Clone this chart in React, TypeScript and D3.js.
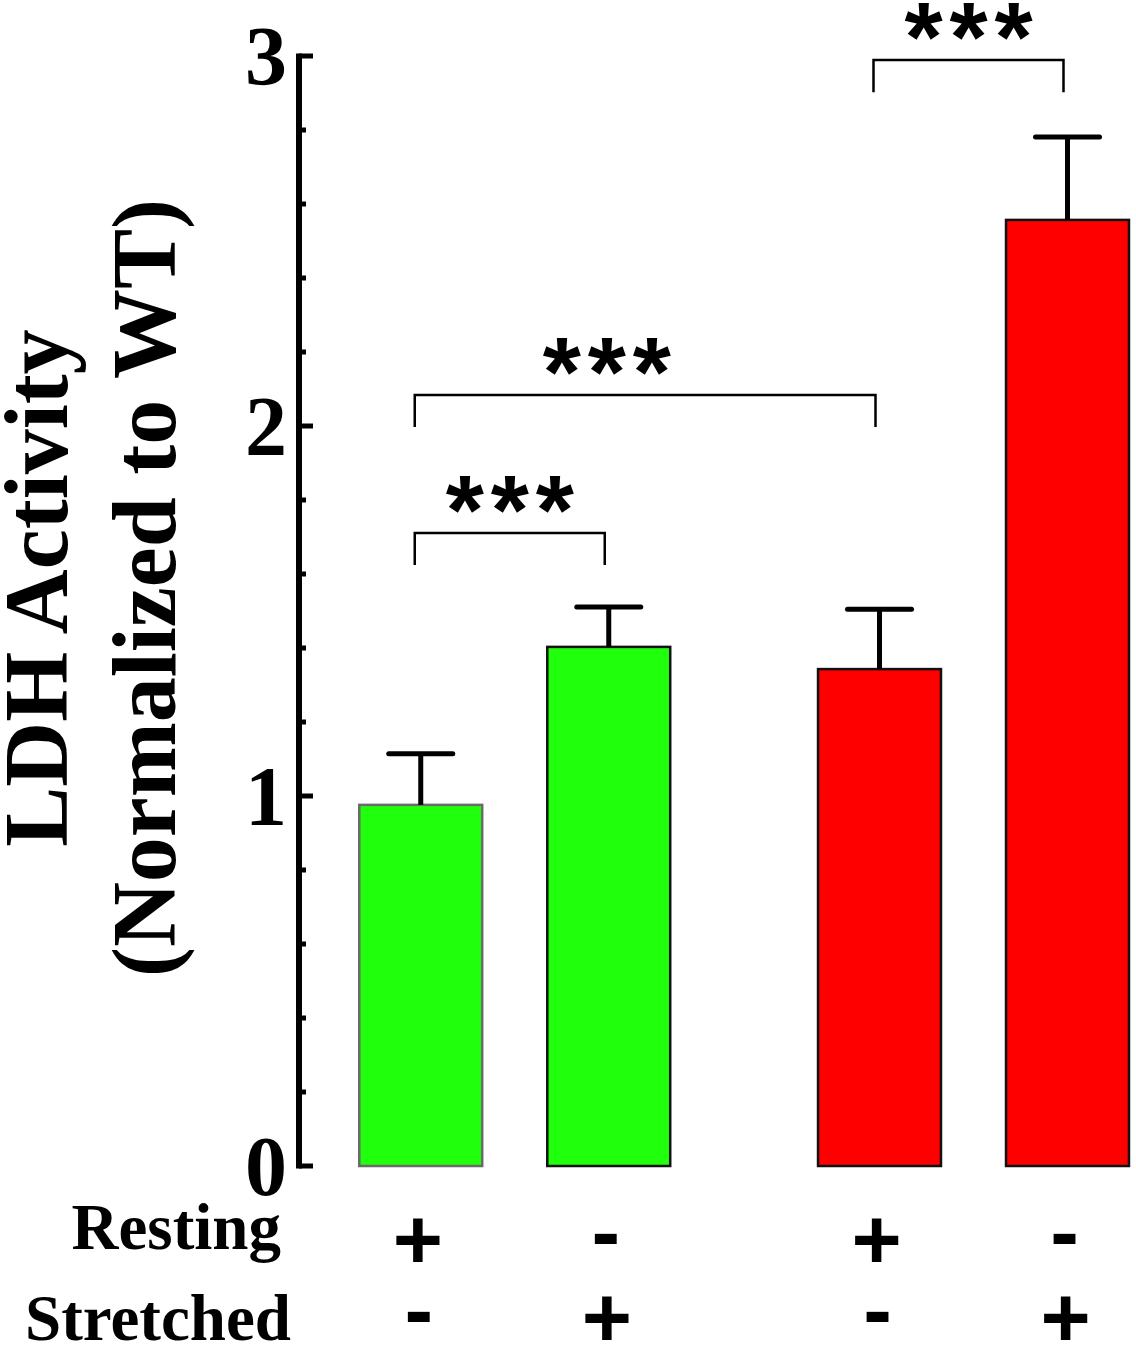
import React from "react";
import * as d3 from "d3";

const groups = ["Green", "Red"];
const conditions = ["Resting", "Stretched"];
const barGroup = ["Green", "Green", "Red", "Red"];
const barCondition = ["Resting", "Stretched", "Resting", "Stretched"];
const means = [0.976, 1.403, 1.343, 2.557];
const errors = [0.138, 0.108, 0.162, 0.224];
const restingSigns = ["+", "-", "+", "-"];
const stretchedSigns = ["-", "+", "-", "+"];
const majorTicks = [0, 1, 2, 3];
const minorTicks = [0.2, 0.4, 0.6, 0.8, 1.2, 1.4, 1.6, 1.8, 2.2, 2.4, 2.6, 2.8];
const brackets = [
  { from: 0, to: 1, level: 1.711, label: "***", labelOver: -1 },
  { from: 0, to: 2, level: 2.084, label: "***", labelOver: 1 },
  { from: 2, to: 3, level: 2.989, label: "***", labelOver: -1 },
];
const bracketDrop = 0.087;

const W = 1136;
const H = 1347;
const fillColors: Record<string, string> = { Green: "#20ff0c", Red: "#ff0000" };
const strokeColors = ["#6a6a6a", "#111", "#111", "#111"];

const serif = "'Liberation Serif', 'Times New Roman', serif";
const sans = "'Liberation Sans', Arial, sans-serif";

export default function App() {
  const y = d3.scaleLinear().domain([0, 3]).range([1166, 56]);
  const xGroup = d3.scalePoint<string>().domain(groups).range([514.75, 973.5]);
  const xInner = d3
    .scaleBand<string>()
    .domain(conditions)
    .range([-188, 188])
    .paddingInner(0.346)
    .paddingOuter(0.173);
  const bw = xInner.bandwidth();
  const barX = (i: number) => (xGroup(barGroup[i]) as number) + (xInner(barCondition[i]) as number);
  const barC = (i: number) => barX(i) + bw / 2;

  const axisX = 299;
  const capHalf = 32;

  const signBaseline = (s: string, center: number, fs: number) =>
    s === "+" ? center + 0.36 * fs : center + 0.27 * fs;

  return (
    <svg
      width={W}
      height={H}
      style={{ position: "absolute", left: 0, top: 0, background: "#fff" }}
    >
      <rect width={W} height={H} fill="#fff" />
      {/* bars */}
      {means.map((m, i) => (
        <rect
          key={"b" + i}
          x={barX(i)}
          y={y(m)}
          width={bw}
          height={y(0) - y(m)}
          fill={fillColors[barGroup[i]]}
          stroke={strokeColors[i]}
          strokeWidth={2.5}
        />
      ))}
      {/* error bars */}
      {means.map((m, i) => (
        <g key={"e" + i} stroke="#000" strokeWidth={5} strokeLinecap="round">
          <line x1={barC(i)} x2={barC(i)} y1={y(m)} y2={y(m + errors[i])} strokeLinecap="butt" />
          <line x1={barC(i) - capHalf} x2={barC(i) + capHalf} y1={y(m + errors[i])} y2={y(m + errors[i])} />
        </g>
      ))}
      {/* axis */}
      <line x1={axisX} x2={axisX} y1={y(0) + 2.5} y2={y(3) - 2.5} stroke="#000" strokeWidth={6} />
      {majorTicks.map((t) => (
        <line key={"M" + t} x1={axisX} x2={313} y1={y(t)} y2={y(t)} stroke="#000" strokeWidth={5} />
      ))}
      {minorTicks.map((t) => (
        <line key={"m" + t} x1={axisX} x2={306} y1={y(t)} y2={y(t)} stroke="#000" strokeWidth={5} />
      ))}
      {majorTicks.map((t) => (
        <text
          key={"l" + t}
          x={287}
          y={y(t) + 29}
          textAnchor="end"
          fontFamily={serif}
          fontWeight="bold"
          fontSize={84}
        >
          {t}
        </text>
      ))}
      {/* y title */}
      <text
        transform={`translate(67,588) rotate(-90)`}
        textAnchor="middle"
        fontFamily={serif}
        fontWeight="bold"
        fontSize={90}
      >
        LDH Activity
      </text>
      <text
        transform={`translate(175,588) rotate(-90)`}
        textAnchor="middle"
        fontFamily={serif}
        fontWeight="bold"
        fontSize={90}
      >
        (Normalized to WT)
      </text>
      {/* brackets */}
      {brackets.map((b, k) => {
        const x1 = barC(b.from) - 6;
        const x2 = barC(b.to) - 4;
        const yt = y(b.level);
        const yb = y(b.level - bracketDrop);
        const cx = b.labelOver >= 0 ? barC(b.labelOver) - 2 : (x1 + x2) / 2;
        return (
          <g key={"br" + k}>
            <path
              d={`M${x1},${yb}V${yt}H${x2}V${yb}`}
              fill="none"
              stroke="#000"
              strokeWidth={2.5}
            />
            {b.label.split("").map((c, j) => (
              <text
                key={j}
                x={cx + (j - 1) * 45}
                y={yt + 11}
                textAnchor="middle"
                fontFamily={sans}
                fontWeight="bold"
                fontSize={98}
              >
                {c}
              </text>
            ))}
          </g>
        );
      })}
      {/* row labels */}
      <text x={281} y={1249} textAnchor="end" fontFamily={serif} fontWeight="bold" fontSize={65}>
        {conditions[0]}
      </text>
      <text x={291} y={1340} textAnchor="end" fontFamily={serif} fontWeight="bold" fontSize={65}>
        {conditions[1]}
      </text>
      {restingSigns.map((s, i) => (
        <text
          key={"rs" + i}
          x={barC(i) - 3}
          y={signBaseline(s, 1238, 86)}
          textAnchor="middle"
          fontFamily={sans}
          fontWeight="bold"
          fontSize={86}
        >
          {s}
        </text>
      ))}
      {stretchedSigns.map((s, i) => (
        <text
          key={"ss" + i}
          x={barC(i) - 2}
          y={signBaseline(s, 1316, 86)}
          textAnchor="middle"
          fontFamily={sans}
          fontWeight="bold"
          fontSize={86}
        >
          {s}
        </text>
      ))}
    </svg>
  );
}
